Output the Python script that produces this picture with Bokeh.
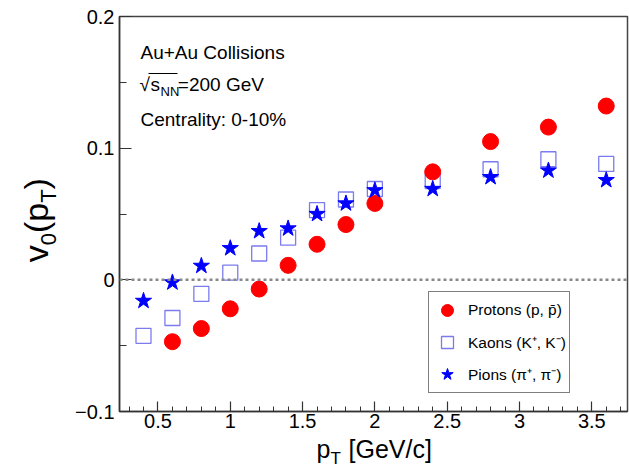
import numpy as np
from bokeh.plotting import figure
from bokeh.layouts import row, column
from bokeh.models import (Range1d, SingleIntervalTicker, CustomJSTickFormatter, Span, Label,
                          Legend, LegendItem, BoxAnnotation, ColumnDataSource)
from bokeh.embed import file_html
from bokeh.resources import INLINE

# ---------------- data ----------------
pt_protons = [0.6, 0.8, 1.0, 1.2, 1.4, 1.6, 1.8, 2.0, 2.4, 2.8, 3.2, 3.6]
v0_protons = [-0.047, -0.037, -0.022, -0.007, 0.011, 0.027, 0.042, 0.058, 0.082, 0.105, 0.116, 0.132]

pt_kaons = [0.4, 0.6, 0.8, 1.0, 1.2, 1.4, 1.6, 1.8, 2.0, 2.4, 2.8, 3.2, 3.6]
v0_kaons = [-0.0425, -0.029, -0.0106, 0.0055, 0.020, 0.032, 0.053, 0.061, 0.069, 0.075, 0.084, 0.0916, 0.088]

pt_pions = [0.4, 0.6, 0.8, 1.0, 1.2, 1.4, 1.6, 1.8, 2.0, 2.4, 2.8, 3.2, 3.6]
v0_pions = [-0.016, -0.002, 0.0106, 0.024, 0.037, 0.039, 0.050, 0.058, 0.068, 0.069, 0.078, 0.083, 0.0757]

legend_labels = ["Protons (p, p\u0304)", "Kaons (K\u207a, K\u207b)", "Pions (\u03c0\u207a, \u03c0\u207b)"]
info_lines = ["Au+Au Collisions", "Centrality: 0-10%"]

FONT = "Liberation Sans"
W, H = 629, 471
YW = 64          # width of the strip holding the y title
MH = 436         # height of the main plot
KB = 0.42        # label baseline correction (fraction of font size)

# ---------------- main figure ----------------
p = figure(width=W - YW, height=MH, output_backend="svg", toolbar_location=None,
           x_range=Range1d(0.234, 3.747), y_range=Range1d(-0.1, 0.2),
           min_border_left=119 - YW, min_border_right=2, min_border_top=16,
           min_border_bottom=MH - 411)
p.background_fill_color = "white"
p.border_fill_color = "white"
p.grid.visible = False
p.outline_line_color = "#444444"
p.outline_line_width = 1.5

xa = p.xaxis[0]
xa.ticker = SingleIntervalTicker(interval=0.5, num_minor_ticks=5)
xa.formatter = CustomJSTickFormatter(code="return String(Math.round(tick*10)/10);")
xa.major_tick_in = 10
xa.major_tick_out = 0
xa.minor_tick_in = 5
xa.minor_tick_out = 0
xa.major_label_standoff = 2

ya = p.yaxis[0]
ya.ticker = SingleIntervalTicker(interval=0.1, num_minor_ticks=2)
ya.formatter = CustomJSTickFormatter(code="""
const v = Math.round(tick*10)/10;
if (v === 0) return "0";
return (v < 0 ? "\u2212" : "") + Math.abs(v).toFixed(1);
""")
ya.major_tick_in = 12
ya.major_tick_out = 0
ya.minor_tick_in = 7
ya.minor_tick_out = 0
ya.major_label_standoff = 5

for ax in (xa, ya):
    ax.axis_line_color = "#333333"
    ax.axis_line_width = 1.5
    ax.major_tick_line_color = "#333333"
    ax.minor_tick_line_color = "#333333"
    ax.major_tick_line_width = 1.2
    ax.minor_tick_line_width = 1.0
    ax.major_label_text_font = FONT
    ax.major_label_text_font_size = "20px"
    ax.major_label_text_color = "black"

# zero line
p.add_layout(Span(location=0, dimension="width", line_color="#888888",
                  line_dash="3 3", line_width=2.5))

# ---------------- data marks ----------------
src_k = ColumnDataSource(dict(x=pt_kaons, y=v0_kaons))
src_p = ColumnDataSource(dict(x=pt_protons, y=v0_protons))
src_pi = ColumnDataSource(dict(x=pt_pions, y=v0_pions))

rk = p.scatter("x", "y", source=src_k, marker="square", size=15, fill_color=None,
               line_color="#7b7bf0", line_width=1.3)
rp = p.scatter("x", "y", source=src_p, marker="circle", size=16, fill_color="#ff0000",
               line_color="#ff0000")
rpi = p.scatter("x", "y", source=src_pi, marker="star", size=17, fill_color="#0000ff",
                line_color="#0000ff")

legend = Legend(items=[LegendItem(label=legend_labels[0], renderers=[rp]),
                       LegendItem(label=legend_labels[1], renderers=[rk]),
                       LegendItem(label=legend_labels[2], renderers=[rpi])],
                location=(309, 18))
legend.border_line_color = "black"
legend.border_line_width = 1
legend.background_fill_color = "white"
legend.background_fill_alpha = 1
legend.label_text_font = FONT
legend.label_text_font_size = "15.5px"
legend.label_text_color = "black"
legend.glyph_width = 30
legend.glyph_height = 30
legend.label_height = 20
legend.spacing = 2
legend.padding = 3
legend.margin = 0
legend.label_standoff = 6
p.add_layout(legend)

# labels: (x, baseline y) given in canvas pixels; frame_left/frame_bottom in canvas pixels
def put(fig, text, x, base_y, size_px, frame_left, frame_bottom, angle=0.0):
    if angle == 0.0:
        X = x - frame_left
        Y = frame_bottom - base_y + KB * size_px
    else:  # rotated 90 deg counter-clockwise: x is the baseline, base_y the start
        X = x - frame_left - KB * size_px
        Y = frame_bottom - base_y
    fig.add_layout(Label(x=X, y=Y, x_units="screen", y_units="screen", text=text,
                         angle=angle, text_font=FONT, text_font_size=f"{size_px}px",
                         text_color="black", text_align="left",
                         text_baseline="alphabetic"))

# info texts inside the frame (main frame: left 119, bottom 411 in canvas pixels)
FL, FB = 119, 411
put(p, info_lines[0], 140, 60, 19, FL, FB)
put(p, "\u221a", 139, 91.7, 19, FL, FB)
put(p, "s", 150, 91.7, 19, FL, FB)
put(p, "NN", 160, 96.5, 13, FL, FB)
put(p, "=200 GeV", 177.3, 91.7, 19, FL, FB)
p.add_layout(BoxAnnotation(left=148 - FL, right=177 - FL, top=FB - 72.4, bottom=FB - 73.6,
                           left_units="screen", right_units="screen",
                           top_units="screen", bottom_units="screen",
                           fill_color="black", fill_alpha=1, line_color=None))
put(p, info_lines[1], 140, 126.7, 19, FL, FB)

# ---------------- strip figures for the axis titles ----------------
def strip(width, height):
    f = figure(width=width, height=height, output_backend="svg", toolbar_location=None,
               title=None, x_axis_type=None, y_axis_type=None,
               min_border=0, min_border_left=0, min_border_right=0,
               min_border_top=0, min_border_bottom=0,
               x_range=Range1d(0, width), y_range=Range1d(0, height))
    f.grid.visible = False
    f.outline_line_color = None
    f.background_fill_color = "white"
    f.border_fill_color = "white"
    return f

# y title: v_0(p_T), rotated
yfig = strip(YW, H)
A = np.pi / 2
put(yfig, "v", 50, 261.7, 34, 0, H, A)
put(yfig, "0", 57, 244.7, 22, 0, H, A)
put(yfig, "(p", 50, 232.5, 34, 0, H, A)
put(yfig, "T", 57, 202.3, 22, 0, H, A)
put(yfig, ")", 50, 188.9, 34, 0, H, A)

# x title: p_T [GeV/c]; the strip's frame is aligned with the main frame (left at 119)
xfig = strip(W - YW, H - MH)
put(xfig, "p", 316, 459, 25, FL, H)
put(xfig, "T", 330, 465, 17, FL, H)
put(xfig, "[GeV/c]", 348, 459, 25, FL, H)

layout = row(yfig, column(p, xfig))
open("out.html", "w").write(file_html(layout, INLINE))
